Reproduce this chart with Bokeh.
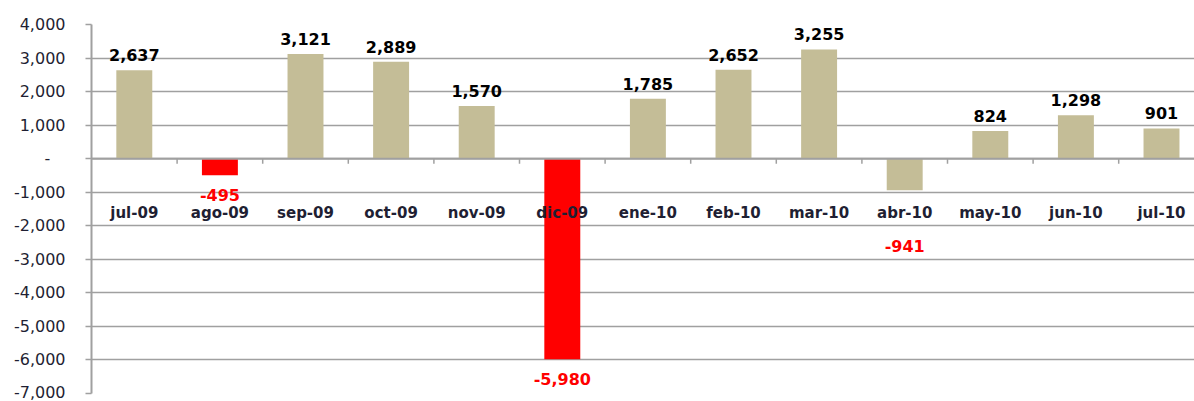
from bokeh.plotting import figure
from bokeh.models import ColumnDataSource, Range1d, FixedTicker, CustomJSTickFormatter, Span
from bokeh.core.properties import value
from bokeh.embed import file_html
from bokeh.resources import INLINE

categories = ["jul-09", "ago-09", "sep-09", "oct-09", "nov-09", "dic-09", "ene-10",
              "feb-10", "mar-10", "abr-10", "may-10", "jun-10", "jul-10"]
values = [2637, -495, 3121, 2889, 1570, -5980, 1785, 2652, 3255, -941, 824, 1298, 901]
y_ticks = [-7000, -6000, -5000, -4000, -3000, -2000, -1000, 0, 1000, 2000, 3000, 4000]

TAN = "#C4BD97"
RED = "#FF0000"
bar_colors = [RED if c in ("ago-09", "dic-09") else TAN for c in categories]
label_colors = ["black" if v > 0 else RED for v in values]
# pixel offsets of value labels (abr-10 label sits lower)
label_offsets = []
for c, v in zip(categories, values):
    if v > 0:
        label_offsets.append(-9)
    elif c == "abr-10":
        label_offsets.append(50)
    else:
        label_offsets.append(14)
label_baselines = ["bottom" if v > 0 else "top" for v in values]

FONT = "DejaVu Sans"
GRID = "#A0A0A0"

x = list(range(len(categories)))
src = ColumnDataSource(dict(
    x=x, cat=categories, v=values, color=bar_colors,
    lbl=[f"{v:,}" for v in values], lcolor=label_colors,
    loff=label_offsets, lbase=label_baselines,
))

W, H = 1194, 401
ML, MR, MT, MB = 91, 0, 24, 8
frame_w = W - ML - MR
cat_px = 85.6
n_vis = frame_w / cat_px

p = figure(width=W, height=H, output_backend="svg", toolbar_location=None,
           x_range=Range1d(-0.5, -0.5 + n_vis), y_range=Range1d(-7000, 4000),
           min_border_left=ML, min_border_right=MR, min_border_top=MT, min_border_bottom=MB)
p.outline_line_color = None
p.xaxis.visible = False
p.xgrid.visible = False

p.ygrid.grid_line_color = GRID
p.ygrid.grid_line_width = 1.5
p.yaxis.ticker = FixedTicker(ticks=y_ticks)
p.yaxis.formatter = CustomJSTickFormatter(code="""
    if (tick == 0) { return '-\\u00a0\\u00a0\\u00a0'; }
    return tick.toLocaleString('en-US');
""")
p.yaxis.axis_line_color = GRID
p.yaxis.axis_line_width = 2
p.yaxis.major_tick_line_color = GRID
p.yaxis.major_tick_line_width = 1.5
p.yaxis.major_tick_out = 6
p.yaxis.major_tick_in = 0
p.yaxis.minor_tick_line_color = None
p.yaxis.major_label_text_font = FONT
p.yaxis.major_label_text_font_size = "16px"
p.yaxis.major_label_text_color = "#1F1F33"
p.yaxis.major_label_standoff = 20

p.vbar(x="x", top="v", bottom=0, width=0.42, fill_color="color", line_color=None, source=src)

# category axis at zero
p.add_layout(Span(location=0, dimension="width", line_color=GRID, line_width=2))
px_per_unit = (H - MT - MB) / 11000.0
tick_len = 5 / px_per_unit
bx = [i + 0.5 for i in x]
p.segment(x0=bx, y0=[0] * len(bx), x1=bx, y1=[-tick_len] * len(bx), line_color=GRID, line_width=1.5)

p.text(x="x", y=0, text="cat", source=src, text_font=value(FONT), text_font_size="15px",
       text_font_style="bold", text_color="#1F1F33", text_align="center",
       text_baseline="middle", y_offset=54)

p.text(x="x", y="v", text="lbl", source=src, text_font=value(FONT), text_font_size="16px",
       text_font_style="bold", text_color="lcolor", text_align="center",
       text_baseline="lbase", y_offset="loff")

open("out.html", "w").write(file_html(p, INLINE))
